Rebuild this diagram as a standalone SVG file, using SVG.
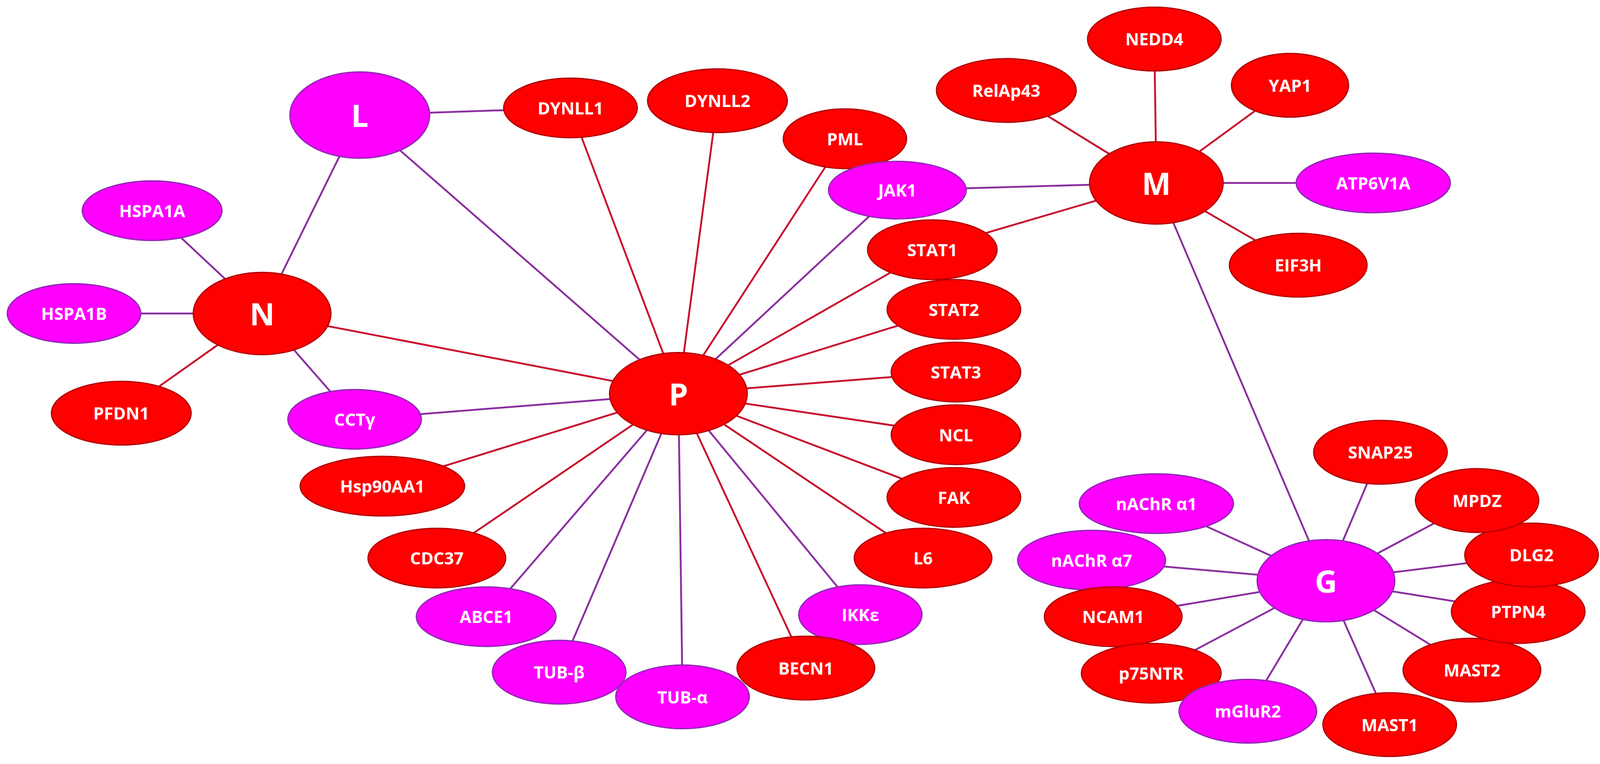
<svg xmlns="http://www.w3.org/2000/svg" width="4126" height="1956" viewBox="0 0 4126 1956">
<style>
.r{fill:#FF0000;stroke:#B00000;stroke-width:1.2}
.m{fill:#FF00FF;stroke:#8A2BB0;stroke-width:1.2}
text{font-family:"Open Sans","Liberation Sans",sans-serif;font-weight:bold;fill:#fff;text-anchor:middle;dominant-baseline:central;font-size:16.5px}
.big{font-size:30px}
.er{stroke:#C8102E;stroke-width:1.8}
.ep{stroke:#8B2FA0;stroke-width:1.8}
</style>
<rect width="4126" height="1956" fill="#fff"/>
<g transform="scale(2.6314)">
<g id="connectors">
<line class="ep" x1="255" y1="305" x2="350" y2="112"/>
<line class="ep" x1="255" y1="305" x2="148" y2="205"/>
<line class="ep" x1="255" y1="305" x2="72" y2="305"/>
<line class="er" x1="255" y1="305" x2="118" y2="402"/>
<line class="ep" x1="255" y1="305" x2="345" y2="408"/>
<line class="er" x1="255" y1="305" x2="660" y2="383"/>
<line class="ep" x1="350" y1="112" x2="555" y2="105"/>
<line class="ep" x1="350" y1="112" x2="660" y2="383"/>
<line class="er" x1="660" y1="383" x2="555" y2="105"/>
<line class="er" x1="660" y1="383" x2="698" y2="98"/>
<line class="er" x1="660" y1="383" x2="822" y2="133"/>
<line class="ep" x1="660" y1="383" x2="873" y2="185"/>
<line class="er" x1="660" y1="383" x2="907" y2="242"/>
<line class="er" x1="660" y1="383" x2="928" y2="300"/>
<line class="er" x1="660" y1="383" x2="930" y2="362"/>
<line class="er" x1="660" y1="383" x2="930" y2="423"/>
<line class="er" x1="660" y1="383" x2="928" y2="485"/>
<line class="er" x1="660" y1="383" x2="898" y2="543"/>
<line class="ep" x1="660" y1="383" x2="837" y2="598"/>
<line class="er" x1="660" y1="383" x2="784" y2="650"/>
<line class="ep" x1="660" y1="383" x2="664" y2="678"/>
<line class="ep" x1="660" y1="383" x2="544" y2="654"/>
<line class="ep" x1="660" y1="383" x2="473" y2="600"/>
<line class="er" x1="660" y1="383" x2="425" y2="543"/>
<line class="er" x1="660" y1="383" x2="372" y2="472"/>
<line class="ep" x1="660" y1="383" x2="345" y2="408"/>
<line class="er" x1="1125" y1="178" x2="979" y2="88"/>
<line class="er" x1="1125" y1="178" x2="1123" y2="38"/>
<line class="er" x1="1125" y1="178" x2="1255" y2="83"/>
<line class="ep" x1="1125" y1="178" x2="873" y2="185"/>
<line class="ep" x1="1125" y1="178" x2="1336" y2="178"/>
<line class="er" x1="1125" y1="178" x2="1263" y2="258"/>
<line class="er" x1="1125" y1="178" x2="907" y2="242"/>
<line class="ep" x1="1125" y1="178" x2="1290" y2="565"/>
<line class="ep" x1="1290" y1="565" x2="1125" y2="490"/>
<line class="ep" x1="1290" y1="565" x2="1062" y2="545"/>
<line class="ep" x1="1290" y1="565" x2="1083" y2="600"/>
<line class="ep" x1="1290" y1="565" x2="1120" y2="655"/>
<line class="ep" x1="1290" y1="565" x2="1214" y2="692"/>
<line class="ep" x1="1290" y1="565" x2="1352" y2="705"/>
<line class="ep" x1="1290" y1="565" x2="1432" y2="652"/>
<line class="ep" x1="1290" y1="565" x2="1477" y2="595"/>
<line class="ep" x1="1290" y1="565" x2="1490" y2="540"/>
<line class="ep" x1="1290" y1="565" x2="1437" y2="487"/>
<line class="ep" x1="1290" y1="565" x2="1343" y2="440"/>
</g>
<g id="L"><ellipse class="m" cx="350" cy="112" rx="68" ry="42"/><text class="big" x="350" y="112">L</text></g>
<g id="N"><ellipse class="r" cx="255" cy="305" rx="67" ry="40"/><text class="big" x="255" y="305">N</text></g>
<g id="P"><ellipse class="r" cx="660" cy="383" rx="67" ry="40"/><text class="big" x="660" y="383">P</text></g>
<g id="M"><ellipse class="r" cx="1125" cy="178" rx="65" ry="40"/><text class="big" x="1125" y="178">M</text></g>
<g id="G"><ellipse class="m" cx="1290" cy="565" rx="67" ry="40"/><text class="big" x="1290" y="565">G</text></g>
<g id="DYNLL1"><ellipse class="r" cx="555" cy="105" rx="65" ry="29"/><text x="555" y="105">DYNLL1</text></g>
<g id="DYNLL2"><ellipse class="r" cx="698" cy="98" rx="68" ry="31"/><text x="698" y="98">DYNLL2</text></g>
<g id="PML"><ellipse class="r" cx="822" cy="135" rx="60" ry="29"/><text x="822" y="135">PML</text></g>
<g id="NEDD4"><ellipse class="r" cx="1123" cy="38" rx="65" ry="31"/><text x="1123" y="38">NEDD4</text></g>
<g id="RelAp43"><ellipse class="r" cx="979" cy="88" rx="68" ry="31"/><text x="979" y="88">RelAp43</text></g>
<g id="YAP1"><ellipse class="r" cx="1255" cy="83" rx="57" ry="31"/><text x="1255" y="83">YAP1</text></g>
<g id="JAK1"><ellipse class="m" cx="873" cy="185" rx="67" ry="28"/><text x="873" y="185">JAK1</text></g>
<g id="ATP6V1A"><ellipse class="m" cx="1336" cy="178" rx="75" ry="29"/><text x="1336" y="178">ATP6V1A</text></g>
<g id="EIF3H"><ellipse class="r" cx="1263" cy="258" rx="67" ry="31"/><text x="1263" y="258">EIF3H</text></g>
<g id="STAT1"><ellipse class="r" cx="907" cy="243" rx="63" ry="29"/><text x="907" y="243">STAT1</text></g>
<g id="STAT2"><ellipse class="r" cx="928" cy="301" rx="65" ry="29"/><text x="928" y="301">STAT2</text></g>
<g id="STAT3"><ellipse class="r" cx="930" cy="362" rx="63" ry="29"/><text x="930" y="362">STAT3</text></g>
<g id="NCL"><ellipse class="r" cx="930" cy="423" rx="63" ry="29"/><text x="930" y="423">NCL</text></g>
<g id="FAK"><ellipse class="r" cx="928" cy="484" rx="65" ry="29"/><text x="928" y="484">FAK</text></g>
<g id="L6"><ellipse class="r" cx="898" cy="543" rx="67" ry="29"/><text x="898" y="543">L6</text></g>
<g id="IKKe"><ellipse class="m" cx="837" cy="598" rx="60" ry="29"/><text x="837" y="598">IKKε</text></g>
<g id="BECN1"><ellipse class="r" cx="784" cy="650" rx="67" ry="31"/><text x="784" y="650">BECN1</text></g>
<g id="TUB-a"><ellipse class="m" cx="664" cy="678" rx="65" ry="31"/><text x="664" y="678">TUB-α</text></g>
<g id="TUB-b"><ellipse class="m" cx="544" cy="654" rx="65" ry="31"/><text x="544" y="654">TUB-β</text></g>
<g id="ABCE1"><ellipse class="m" cx="473" cy="600" rx="68" ry="29"/><text x="473" y="600">ABCE1</text></g>
<g id="CDC37"><ellipse class="r" cx="425" cy="543" rx="67" ry="29"/><text x="425" y="543">CDC37</text></g>
<g id="Hsp90AA1"><ellipse class="r" cx="372" cy="473" rx="80" ry="29"/><text x="372" y="473">Hsp90AA1</text></g>
<g id="CCTg"><ellipse class="m" cx="345" cy="408" rx="65" ry="29"/><text x="345" y="408">CCTγ</text></g>
<g id="HSPA1A"><ellipse class="m" cx="148" cy="205" rx="68" ry="29"/><text x="148" y="205">HSPA1A</text></g>
<g id="HSPA1B"><ellipse class="m" cx="72" cy="305" rx="65" ry="29"/><text x="72" y="305">HSPA1B</text></g>
<g id="PFDN1"><ellipse class="r" cx="118" cy="402" rx="68" ry="31"/><text x="118" y="402">PFDN1</text></g>
<g id="nAChRa1"><ellipse class="m" cx="1125" cy="490" rx="75" ry="29"/><text x="1125" y="490">nAChR α1</text></g>
<g id="nAChRa7"><ellipse class="m" cx="1062" cy="545" rx="72" ry="29"/><text x="1062" y="545">nAChR α7</text></g>
<g id="NCAM1"><ellipse class="r" cx="1083" cy="600" rx="67" ry="29"/><text x="1083" y="600">NCAM1</text></g>
<g id="p75NTR"><ellipse class="r" cx="1120" cy="655" rx="68" ry="29"/><text x="1120" y="655">p75NTR</text></g>
<g id="mGluR2"><ellipse class="m" cx="1214" cy="692" rx="67" ry="31"/><text x="1214" y="692">mGluR2</text></g>
<g id="MAST1"><ellipse class="r" cx="1352" cy="705" rx="65" ry="31"/><text x="1352" y="705">MAST1</text></g>
<g id="MAST2"><ellipse class="r" cx="1432" cy="652" rx="67" ry="31"/><text x="1432" y="652">MAST2</text></g>
<g id="PTPN4"><ellipse class="r" cx="1477" cy="595" rx="65" ry="31"/><text x="1477" y="595">PTPN4</text></g>
<g id="DLG2"><ellipse class="r" cx="1490" cy="540" rx="65" ry="31"/><text x="1490" y="540">DLG2</text></g>
<g id="MPDZ"><ellipse class="r" cx="1437" cy="487" rx="60" ry="31"/><text x="1437" y="487">MPDZ</text></g>
<g id="SNAP25"><ellipse class="r" cx="1343" cy="440" rx="65" ry="31"/><text x="1343" y="440">SNAP25</text></g>
</g>
</svg>
